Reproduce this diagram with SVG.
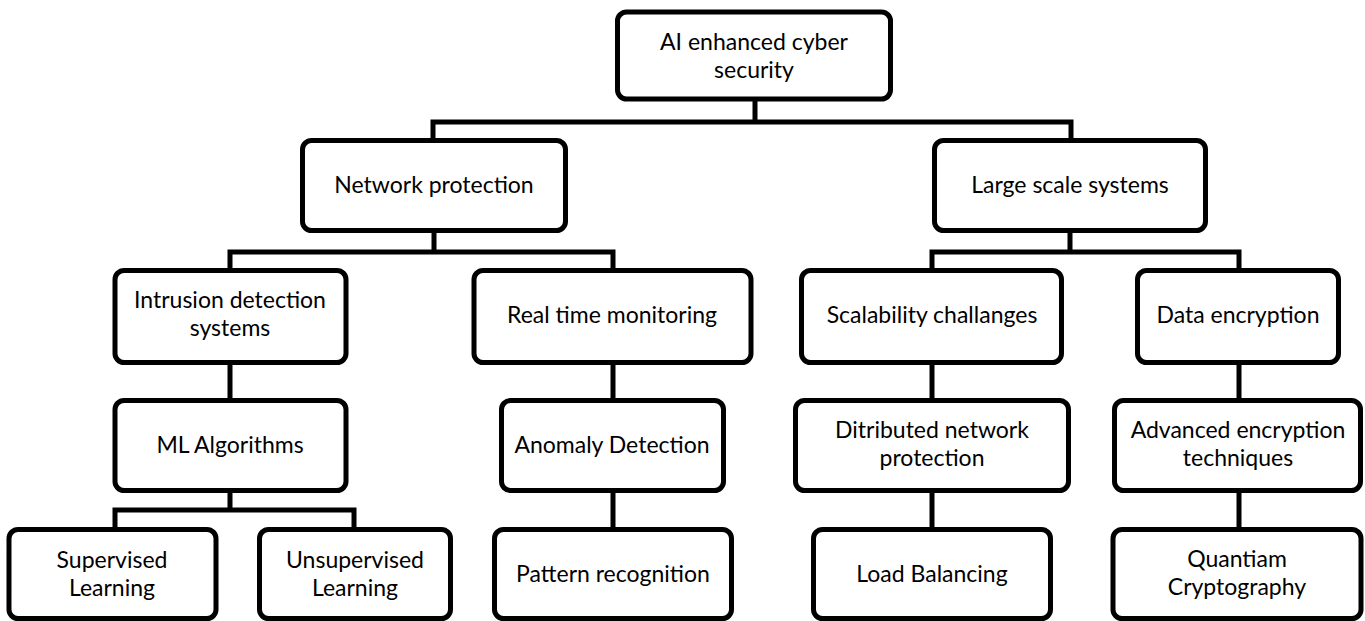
<svg xmlns="http://www.w3.org/2000/svg" width="1365" height="621" viewBox="0 0 1365 621">
<style>
.box{fill:#fff;stroke:#000;stroke-width:5}
.t{font-family:Lato,"Open Sans","Liberation Sans",sans-serif;font-size:23px;fill:#000;text-anchor:middle}
.c{fill:none;stroke:#000;stroke-width:5}
</style>
<rect width="1365" height="621" fill="#fff"/>
<g id="connectors">
<path class="c" d="M755,100 V122 M433,140 V122 H1071 V140"/>
<path class="c" d="M434,231 V252 M230,270 V252 H613 V270"/>
<path class="c" d="M1070,231 V252 M932,270 V252 H1239 V270"/>
<path class="c" d="M230,362 V400"/>
<path class="c" d="M230,490 V510 M115,529 V510 H354 V529"/>
<path class="c" d="M613,362 V400 M613,490 V529"/>
<path class="c" d="M932,362 V400 M932,490 V529"/>
<path class="c" d="M1239,362 V400 M1239,490 V529"/>
</g>
<g id="root"><rect class="box" x="617.5" y="12" width="273" height="87" rx="9"/><text class="t" x="754" y="50">AI enhanced cyber</text><text class="t" x="754" y="78">security</text></g>
<g id="network"><rect class="box" x="302.5" y="140.5" width="263" height="90" rx="9"/><text class="t" x="434" y="193">Network protection</text></g>
<g id="large"><rect class="box" x="934.5" y="140.5" width="271" height="90" rx="9"/><text class="t" x="1070" y="193">Large scale systems</text></g>
<g id="ids"><rect class="box" x="115" y="270.5" width="231" height="92" rx="9"/><text class="t" x="230" y="308">Intrusion detection</text><text class="t" x="230" y="336">systems</text></g>
<g id="rtm"><rect class="box" x="474" y="270.5" width="277" height="92" rx="9"/><text class="t" x="612" y="323">Real time monitoring</text></g>
<g id="scal"><rect class="box" x="801.5" y="270.5" width="260" height="92" rx="9"/><text class="t" x="932" y="323">Scalability challanges</text></g>
<g id="data"><rect class="box" x="1137.5" y="270.5" width="201" height="92" rx="9"/><text class="t" x="1238" y="323">Data encryption</text></g>
<g id="ml"><rect class="box" x="115" y="400.5" width="231" height="90" rx="9"/><text class="t" x="230" y="453">ML Algorithms</text></g>
<g id="anomaly"><rect class="box" x="501.5" y="400.5" width="222" height="90" rx="9"/><text class="t" x="612" y="453">Anomaly Detection</text></g>
<g id="dist"><rect class="box" x="795.5" y="400.5" width="273" height="90" rx="9"/><text class="t" x="932" y="438">Ditributed network</text><text class="t" x="932" y="466">protection</text></g>
<g id="adv"><rect class="box" x="1114.5" y="400.5" width="246" height="90" rx="9"/><text class="t" x="1238" y="438">Advanced encryption</text><text class="t" x="1238" y="466">techniques</text></g>
<g id="sup"><rect class="box" x="9" y="529.5" width="207" height="89" rx="9"/><text class="t" x="112" y="568">Supervised</text><text class="t" x="112" y="596">Learning</text></g>
<g id="unsup"><rect class="box" x="259.5" y="529.5" width="191" height="89" rx="9"/><text class="t" x="355" y="568">Unsupervised</text><text class="t" x="355" y="596">Learning</text></g>
<g id="pattern"><rect class="box" x="494.5" y="529.5" width="237" height="89" rx="9"/><text class="t" x="613" y="582">Pattern recognition</text></g>
<g id="load"><rect class="box" x="813.5" y="529.5" width="237" height="89" rx="9"/><text class="t" x="932" y="582">Load Balancing</text></g>
<g id="quant"><rect class="box" x="1113" y="529.5" width="248" height="89" rx="9"/><text class="t" x="1237" y="567">Quantiam</text><text class="t" x="1237" y="595">Cryptography</text></g>
</svg>
